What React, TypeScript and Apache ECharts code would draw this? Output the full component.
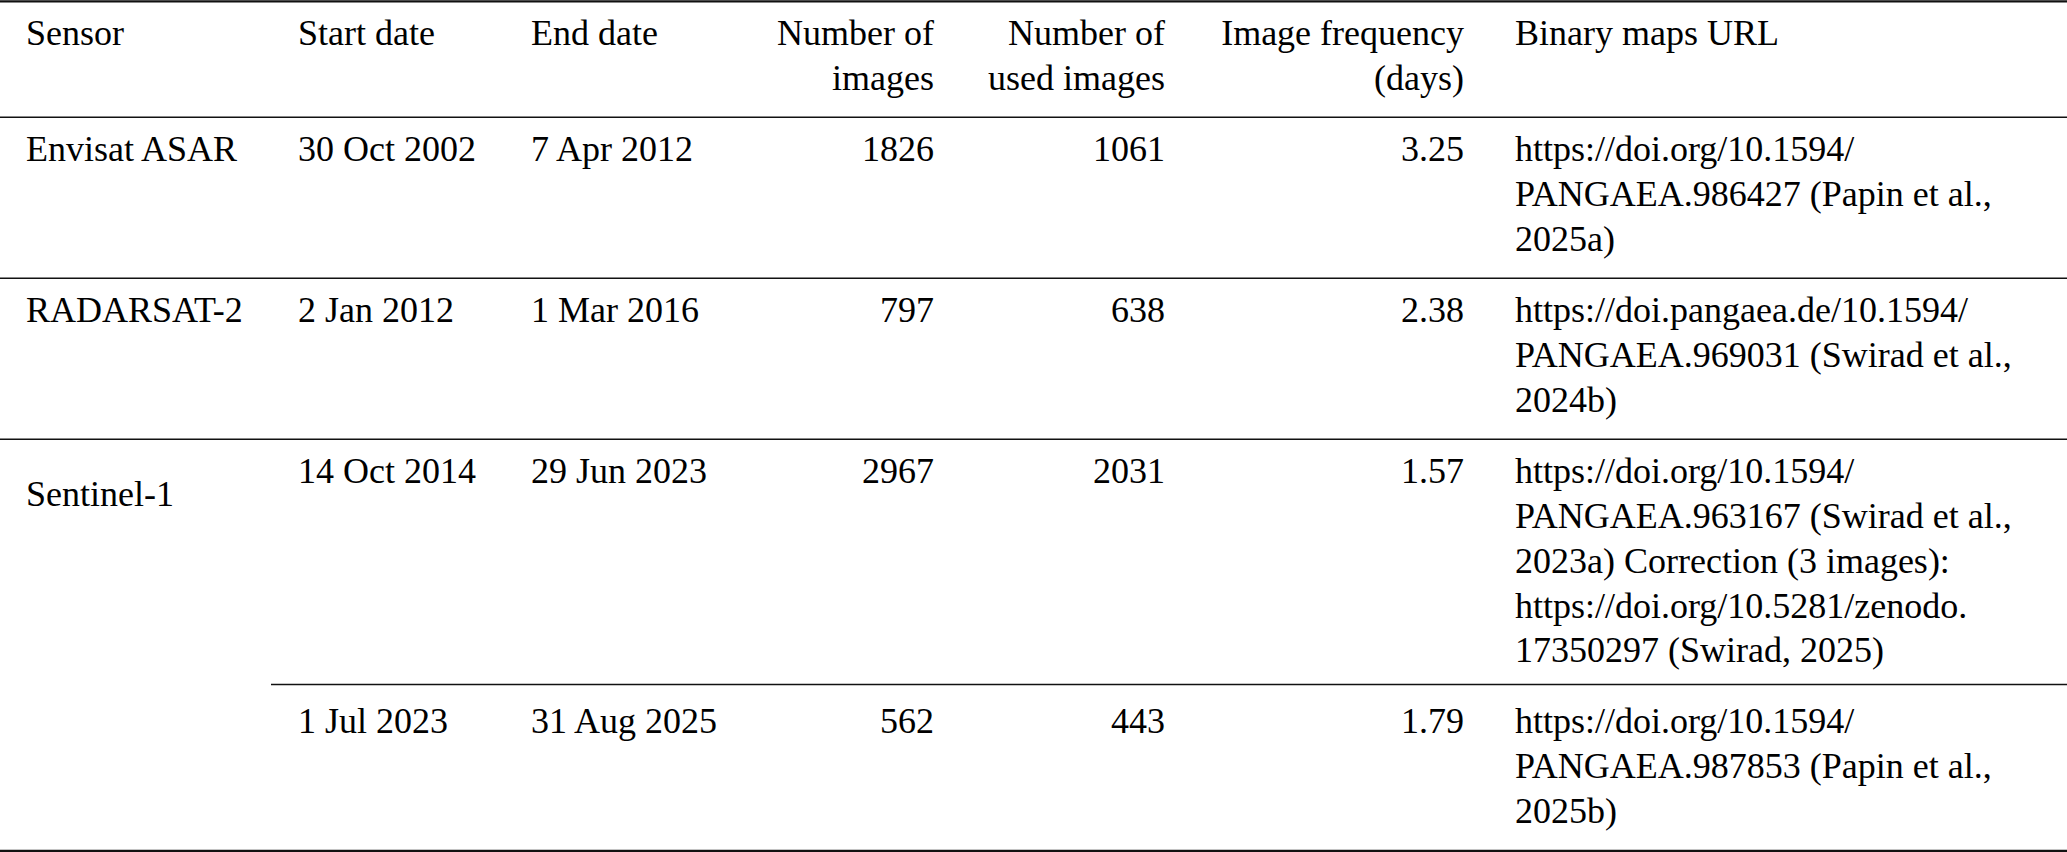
import React, { useEffect, useRef } from "react";
import * as echarts from "echarts";

// ---- Data ----
const headerLines: string[][] = [
  ["Sensor"],
  ["Start date"],
  ["End date"],
  ["Number of", "images"],
  ["Number of", "used images"],
  ["Image frequency", "(days)"],
  ["Binary maps URL"],
];
const sensors: string[] = ["Envisat ASAR", "RADARSAT-2", "Sentinel-1", ""];
const startDates: string[] = ["30 Oct 2002", "2 Jan 2012", "14 Oct 2014", "1 Jul 2023"];
const endDates: string[] = ["7 Apr 2012", "1 Mar 2016", "29 Jun 2023", "31 Aug 2025"];
const numberOfImages: number[] = [1826, 797, 2967, 562];
const numberOfUsedImages: number[] = [1061, 638, 2031, 443];
const imageFrequencyDays: number[] = [3.25, 2.38, 1.57, 1.79];
const urlLines: string[][] = [
  ["https://doi.org/10.1594/", "PANGAEA.986427 (Papin et al.,", "2025a)"],
  ["https://doi.pangaea.de/10.1594/", "PANGAEA.969031 (Swirad et al.,", "2024b)"],
  [
    "https://doi.org/10.1594/",
    "PANGAEA.963167 (Swirad et al.,",
    "2023a) Correction (3 images):",
    "https://doi.org/10.5281/zenodo.",
    "17350297 (Swirad, 2025)",
  ],
  ["https://doi.org/10.1594/", "PANGAEA.987853 (Papin et al.,", "2025b)"],
];

// ---- Layout ----
const W = 2067;
const H = 852;
const FS = 36;
const LH = 44.8;
const CENTRAL = 12.2; // alphabetic baseline -> text centre
const colX = [26, 298, 531, 934, 1165, 1464, 1515];
const colAlign = ["left", "left", "left", "right", "right", "right", "left"];
const headerBaseline = 45.5;
const rowBaselines = [161.3, 322.3, 483.3, 733.5];
const sensorBaselines = [161.3, 322.3, 506, 0];
const rules = [
  { y: 1.3, x1: 0, x2: W, w: 2.2 },
  { y: 117.3, x1: 0, x2: W, w: 1.6 },
  { y: 278.3, x1: 0, x2: W, w: 1.6 },
  { y: 439.3, x1: 0, x2: W, w: 1.6 },
  { y: 684.5, x1: 271, x2: W, w: 1.6 },
  { y: 850.8, x1: 0, x2: W, w: 2.2 },
];

function cell(s: string, col: number, baseline: number) {
  return {
    text: s,
    left: colX[col],
    top: baseline - CENTRAL - FS / 2,
    padding: 0,
    itemGap: 0,
    textAlign: colAlign[col],
    textVerticalAlign: "top",
    textStyle: {
      fontFamily: "Liberation Serif",
      fontSize: FS,
      fontWeight: "normal",
      color: "#000",
    },
  };
}

export default function App() {
  const ref = useRef<HTMLDivElement>(null);
  useEffect(() => {
    document.body.style.margin = "0";
    if (!ref.current) return;
    const chart = echarts.init(ref.current, null, { renderer: "svg", width: W, height: H });
    const titles: any[] = [];
    headerLines.forEach((lines, c) =>
      lines.forEach((l, i) => titles.push(cell(l, c, headerBaseline + i * LH)))
    );
    rowBaselines.forEach((b, r) => {
      if (sensors[r]) titles.push(cell(sensors[r], 0, sensorBaselines[r]));
      titles.push(cell(startDates[r], 1, b));
      titles.push(cell(endDates[r], 2, b));
      titles.push(cell(String(numberOfImages[r]), 3, b));
      titles.push(cell(String(numberOfUsedImages[r]), 4, b));
      titles.push(cell(imageFrequencyDays[r].toFixed(2), 5, b));
      urlLines[r].forEach((l, i) => titles.push(cell(l, 6, b + i * LH)));
    });
    const elements = rules.map((r) => ({
      type: "line",
      shape: { x1: r.x1, y1: r.y, x2: r.x2, y2: r.y },
      style: { stroke: "#111", lineWidth: r.w },
    }));
    chart.setOption({
      animation: false,
      backgroundColor: "#fff",
      title: titles,
      graphic: { elements },
    });
    return () => chart.dispose();
  }, []);
  return <div ref={ref} style={{ position: "absolute", left: 0, top: 0, width: W, height: H }} />;
}
